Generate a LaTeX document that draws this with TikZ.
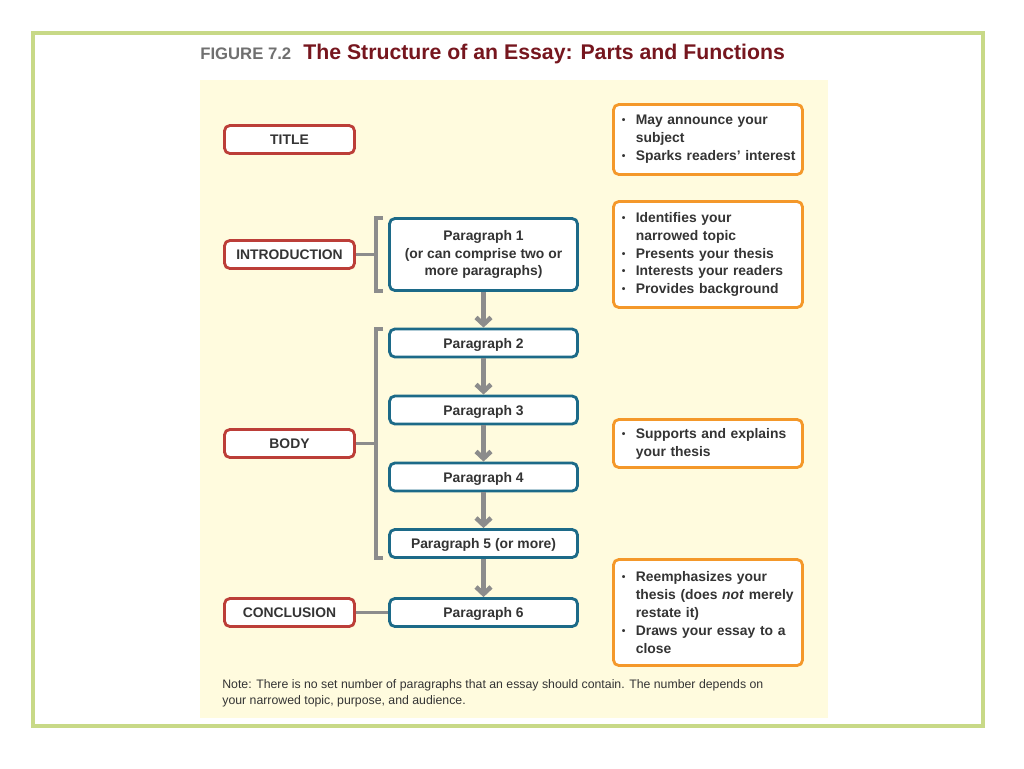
\documentclass[tikz,border=0pt]{standalone}
\usepackage{fontspec}
\setmainfont{Liberation Sans}
\usepackage{graphicx}
\usetikzlibrary{arrows.meta}
\definecolor{framegreen}{RGB}{200,217,135}
\definecolor{panel}{RGB}{255,251,222}
\definecolor{partred}{RGB}{188,62,56}
\definecolor{parablue}{RGB}{28,106,136}
\definecolor{roleorange}{RGB}{244,152,42}
\definecolor{linkgray}{RGB}{140,140,140}
\definecolor{titlered}{RGB}{118,22,30}
\definecolor{ink}{RGB}{52,52,52}
\newcommand{\bul}{\hspace*{1.1pt}\makebox[7.9pt][l]{\raisebox{0.6pt}{\scalebox{0.75}{\textbullet}}}}
\newcommand{\ind}{\hspace*{9pt}}

\begin{document}
\begin{tikzpicture}[x=0.02cm,y=-0.02cm,
  box/.style={line width=1.6pt,rounded corners=3pt,fill=white,text=ink,
    font=\fontsize{7.9}{10.2}\selectfont\bfseries},
  part/.style={box,draw=partred,minimum width=2.6cm,minimum height=0.56cm,text depth=0pt},
  para/.style={box,draw=parablue,minimum width=3.76cm,minimum height=0.56cm,align=center},
  role/.style={box,draw=roleorange,text width=3.52cm,inner xsep=0.13cm,align=left},
  link/.style={draw=linkgray,line width=2.2pt},
  flow/.style={link,line width=2.6pt,-{Straight Barb[length=4pt,width=8.5pt]}}]
\fill[white] (0,0) rectangle (1024,768);
\draw[framegreen,line width=2.8pt] (33,33) rectangle (983,726);
\fill[panel] (200,80) rectangle (828,718);
% heading
\node[anchor=base west,inner sep=0,text=linkgray!80!black,font=\fontsize{9.5}{11}\selectfont\bfseries] (fig) at (200,59) {FIGURE 7.2};
\node[anchor=base west,inner sep=0,text=titlered,font=\fontsize{12.1}{14}\selectfont\bfseries] (head) at (303,59) {The Structure of an Essay: Parts and Functions};
% parts of the essay
\node[part] (title) at (289.5,139.5) {TITLE};
\node[part] (intro) at (289.5,254.5) {INTRODUCTION};
\node[part] (body) at (289.5,443.5) {BODY};
\node[part] (concl) at (289.5,612.5) {CONCLUSION};
% paragraphs
\node[para,minimum height=1.44cm] (p1) at (483.5,254.5) {Paragraph 1\\(or can comprise two or\\more paragraphs)};
\node[para,text depth=0pt] (p2) at (483.5,343) {Paragraph 2};
\node[para,text depth=0pt] (p3) at (483.5,410) {Paragraph 3};
\node[para,text depth=0pt] (p4) at (483.5,477) {Paragraph 4};
\node[para,text depth=0pt] (p5) at (483.5,543.5) {Paragraph 5 (or more)};
\node[para,text depth=0pt] (p6) at (483.5,612.5) {Paragraph 6};
\draw[flow] (p1) -- (p2);
\draw[flow] (p2) -- (p3);
\draw[flow] (p3) -- (p4);
\draw[flow] (p4) -- (p5);
\draw[flow] (p5) -- (p6);
% brackets
\coordinate (ib) at (376,254.5);
\coordinate (bb) at (376,443.5);
\draw[link] (intro) -- (ib);
\draw[link] (body) -- (bb);
\draw[link] (concl) -- (p6);
\draw[link] ([xshift=-0.1cm,yshift=-0.02cm]p1.north west) -| (ib) |- ([xshift=-0.1cm,yshift=0.02cm]p1.south west);
\draw[link] ([xshift=-0.1cm,yshift=-0.02cm]p2.north west) -| (bb) |- ([xshift=-0.1cm,yshift=0.02cm]p5.south west);
% functions
\node[role,minimum height=1.40cm] (f1) at (708,139.5) {\bul May announce your\\\ind subject\\\bul Sparks readers' interest};
\node[role,minimum height=2.12cm] (f2) at (708,254.5) {\bul Identifies your\\\ind narrowed topic\\\bul Presents your thesis\\\bul Interests your readers\\\bul Provides background};
\node[role,minimum height=0.96cm] (f3) at (708,443.5) {\bul Supports and explains\\\ind your thesis};
\node[role,minimum height=2.12cm] (f4) at (708,612.5) {\bul Reemphasizes your\\\ind thesis (does \textit{not} merely\\\ind restate it)\\\bul Draws your essay to a\\\ind close};
% note
\node[anchor=north west,inner sep=0,align=left,text=ink,font=\fontsize{7}{9}\selectfont] (note) at (222,679) {Note: There is no set number of paragraphs that an essay should contain. The number depends on\\your narrowed topic, purpose, and audience.};
\end{tikzpicture}
\end{document}
